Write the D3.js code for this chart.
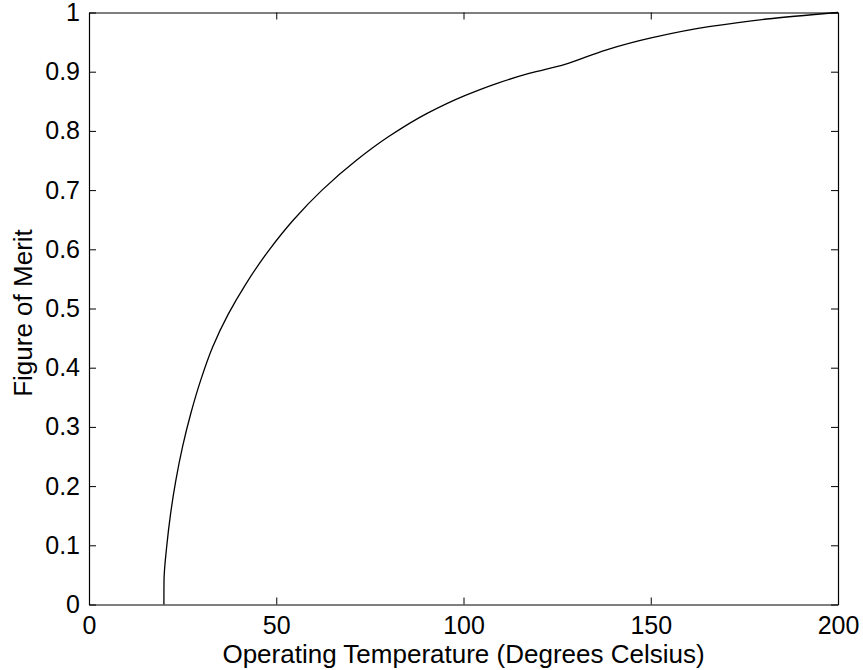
<!DOCTYPE html>
<html>
<head>
<meta charset="utf-8">
<script src="https://cdn.jsdelivr.net/npm/d3@7"></script>
<style>
  html, body { margin: 0; padding: 0; background: #fff; }
  svg { display: block; }
  text { font-family: "Liberation Sans", Arial, Helvetica, sans-serif; fill: #000; }
</style>
</head>
<body>
<svg id="chart" width="863" height="670"></svg>
<script>
// Operating temperature (deg C) and the corresponding figure of merit
const temperature = [20, 20.03, 20.75, 21.8, 23.2, 25.0, 27.2, 29.83, 33.02, 37.15, 41.75, 48.23,
  54.63, 62.23, 71.33, 79.93, 90.41, 100.5, 108.8, 117.5, 127.1, 138.2, 150.1, 165.5, 181.0, 200];
const merit = [0, 0.04, 0.098, 0.154, 0.21, 0.267, 0.323, 0.379, 0.435, 0.49, 0.54, 0.6,
  0.65, 0.7, 0.75, 0.79, 0.83, 0.86, 0.88, 0.897, 0.9125, 0.937, 0.957, 0.976, 0.989, 1.0];

const xTicks = [0, 50, 100, 150, 200];
const yTicks = [0, 0.1, 0.2, 0.3, 0.4, 0.5, 0.6, 0.7, 0.8, 0.9, 1];
const xTitle = "Operating Temperature (Degrees Celsius)";
const yTitle = "Figure of Merit";

(function draw() {
  const margin = { left: 89, right: 25, top: 12.5, bottom: 65.5 };
  const width = 863, height = 670;
  const innerW = width - margin.left - margin.right;
  const innerH = height - margin.top - margin.bottom;

  const svg = d3.select("#chart");
  const g = svg.append("g").attr("transform", `translate(${margin.left},${margin.top})`);

  const x = d3.scaleLinear().domain([0, 200]).range([0, innerW]);
  const y = d3.scaleLinear().domain([0, 1]).range([innerH, 0]);

  const tickLen = 7;
  const fmtY = d => d === 0 ? "0" : d === 1 ? "1" : d3.format(".1f")(d);

  // Bottom and left axes with inward ticks and labels
  const axBottom = g.append("g").attr("transform", `translate(0,${innerH})`)
    .call(d3.axisBottom(x).tickValues(xTicks).tickSizeInner(-tickLen).tickSizeOuter(0).tickPadding(12));
  const axLeft = g.append("g")
    .call(d3.axisLeft(y).tickValues(yTicks).tickFormat(fmtY).tickSizeInner(-tickLen).tickSizeOuter(0).tickPadding(9));
  // Top and right axes: ticks only
  const axTop = g.append("g")
    .call(d3.axisTop(x).tickValues(xTicks).tickSizeInner(-tickLen).tickSizeOuter(0).tickFormat(""));
  const axRight = g.append("g").attr("transform", `translate(${innerW},0)`)
    .call(d3.axisRight(y).tickValues(yTicks).tickSizeInner(-tickLen).tickSizeOuter(0).tickFormat(""));

  [axBottom, axLeft, axTop, axRight].forEach(a => {
    a.select(".domain").attr("stroke", "#000").attr("stroke-width", 1.2);
    a.selectAll(".tick line").attr("stroke", "#000").attr("stroke-width", 1);
    a.selectAll("text").attr("font-size", 25).attr("font-family", "Liberation Sans, Arial, sans-serif").attr("fill", "#000");
  });

  // Curve
  const pts = temperature.map((t, i) => [t, merit[i]]);
  const line = d3.line().x(d => x(d[0])).y(d => y(d[1])).curve(d3.curveMonotoneY);
  g.append("path").datum(pts)
    .attr("fill", "none").attr("stroke", "#000").attr("stroke-width", 1.3)
    .attr("d", line);

  // Axis titles
  svg.append("text")
    .attr("x", margin.left + innerW / 2).attr("y", 663)
    .attr("text-anchor", "middle").attr("font-size", 26)
    .text(xTitle);
  svg.append("text")
    .attr("transform", `translate(32,313) rotate(-90)`)
    .attr("text-anchor", "middle").attr("font-size", 26)
    .text(yTitle);
})();
</script>
</body>
</html>
